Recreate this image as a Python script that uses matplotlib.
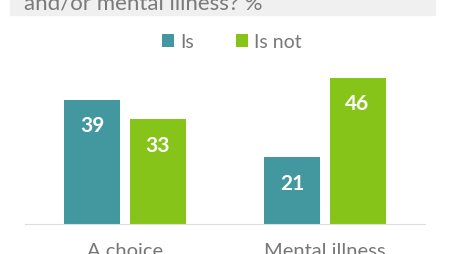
import matplotlib
matplotlib.use("Agg")
import matplotlib.pyplot as plt
from matplotlib.patches import Rectangle
import numpy as np

plt.rcParams['font.family'] = ['Lato', 'DejaVu Sans']

categories = ["A choice", "Mental illness"]
series_names = ["Is", "Is not"]
is_values = [39, 21]
is_not_values = [33, 46]
colors = ["#43979f", "#86c41a"]
title = "and/or mental illness? %"

fig = plt.figure(figsize=(4.54, 2.55), dpi=100)

# grey title band, clipped at the top like the screenshot
fig.patches.append(Rectangle((10 / 454, 1 - 16 / 255), 425 / 454, 16 / 255,
                             transform=fig.transFigure, color="#f0f0f0", zorder=0))
fig.text(24 / 454, 1 - 10 / 255, title, fontsize=16, color="#7a7a7a",
         ha="left", va="baseline")

ax = fig.add_axes([25 / 454, 30 / 255, 400 / 454, 165 / 255])
x = np.arange(len(categories))
w = 0.28
b1 = ax.bar(x - 0.165, is_values, w, color=colors[0], label=series_names[0])
b2 = ax.bar(x + 0.1625, is_not_values, w, color=colors[1], label=series_names[1])

for bars in (b1, b2):
    for r in bars:
        ax.text(r.get_x() + r.get_width() / 2, r.get_height() - 8, str(int(r.get_height())),
                ha="center", va="center", color="white", fontsize=15, fontweight="bold")

ax.set_xlim(-0.5, 1.5)
ax.set_ylim(0, 51.9)
ax.set_xticks(x)
ax.set_xticklabels(categories, fontsize=14.5, color="#777777")
ax.tick_params(axis="x", length=0, pad=13)
ax.set_yticks([])
for s in ["top", "left", "right"]:
    ax.spines[s].set_visible(False)
ax.spines["bottom"].set_color("#dddddd")

fig.legend(handles=[b1, b2], labels=series_names, loc="center",
           bbox_to_anchor=(232 / 454, 1 - 43 / 255), ncol=2, frameon=False,
           fontsize=14, labelcolor="#777777", handlelength=0.6, handleheight=0.6,
           handletextpad=0.3, columnspacing=2.2)

fig.savefig("out.png", dpi=100)
